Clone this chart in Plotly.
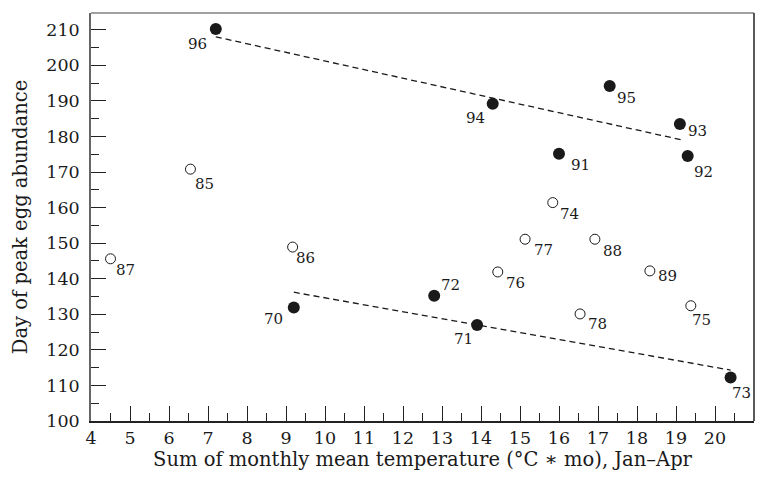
import plotly.graph_objects as go

# Years with early/late egg peaks (filled markers)
filled_years = ["96", "94", "95", "93", "91", "92", "70", "72", "71", "73"]
filled_temp = [7.2, 14.3, 17.3, 19.1, 16.0, 19.3, 9.2, 12.8, 13.9, 20.4]
filled_day = [210.2, 189.2, 194.2, 183.5, 175.1, 174.5, 131.9, 135.2, 127.0, 112.2]

# Remaining years (open markers)
open_years = ["85", "87", "86", "74", "77", "88", "76", "89", "78", "75"]
open_temp = [6.55, 4.5, 9.17, 15.84, 15.13, 16.92, 14.43, 18.33, 16.54, 19.38]
open_day = [170.8, 145.6, 148.9, 161.4, 151.1, 151.1, 141.9, 142.2, 130.1, 132.4]

# Fitted trend lines (endpoints)
upper_fit_x = [7.2, 19.2]
upper_fit_y = [208.0, 178.9]
lower_fit_x = [9.2, 20.4]
lower_fit_y = [136.2, 114.3]

# Label offsets in pixels (dx right, dy down)
label_offset = {
    "96": (-18, 15), "94": (-17, 14), "95": (17, 12), "93": (18, 7),
    "91": (21, 11), "92": (16, 16), "70": (-20, 11), "72": (16, -11),
    "71": (-14, 14), "73": (11, 15), "85": (14, 15), "87": (15, 11),
    "86": (13, 11), "74": (17, 11), "77": (18, 11), "88": (18, 12),
    "76": (18, 11), "89": (18, 5), "78": (17, 10), "75": (11, 14),
}

FONT = "DejaVu Serif"
INK = "#1a1a1a"

fig = go.Figure()

for fx, fy in ((upper_fit_x, upper_fit_y), (lower_fit_x, lower_fit_y)):
    fig.add_trace(go.Scatter(
        x=fx, y=fy, mode="lines",
        line=dict(color=INK, width=1.3, dash="6px,4px"),
        hoverinfo="skip", showlegend=False,
    ))

fig.add_trace(go.Scatter(
    x=open_temp, y=open_day, mode="markers",
    marker=dict(size=10, color="white", line=dict(color=INK, width=1)),
    showlegend=False,
))
fig.add_trace(go.Scatter(
    x=filled_temp, y=filled_day, mode="markers",
    marker=dict(size=12, color=INK, line=dict(width=0)),
    showlegend=False,
))

for years, xs, ys in ((filled_years, filled_temp, filled_day),
                      (open_years, open_temp, open_day)):
    for yr, xv, yv in zip(years, xs, ys):
        dx, dy = label_offset[yr]
        fig.add_annotation(
            x=xv, y=yv, text=yr, showarrow=False,
            xshift=dx, yshift=-dy,
            font=dict(family=FONT, size=15, color=INK),
        )

# Frame: top edge lighter, right edge dark
fig.add_shape(type="line", xref="paper", yref="paper", x0=0, x1=1, y0=1, y1=1,
              line=dict(color="#808080", width=1.5))
fig.add_shape(type="line", xref="paper", yref="paper", x0=1, x1=1, y0=0, y1=1,
              line=dict(color="#222222", width=1.5))

fig.update_layout(
    width=764, height=478,
    margin=dict(l=91, r=10, t=13, b=57),
    paper_bgcolor="white", plot_bgcolor="white",
    font=dict(family=FONT, color=INK),
    xaxis=dict(
        range=[4, 21], dtick=1, tick0=4,
        showgrid=False, zeroline=False,
        showline=True, linecolor="#222222", linewidth=1.5,
        ticks="inside", ticklen=15, tickwidth=1.2, tickcolor="#222222",
        minor=dict(dtick=0.5, ticks="inside", ticklen=8, tickwidth=1.2,
                   tickcolor="#222222", showgrid=False),
        tickfont=dict(family=FONT, size=17.5, color=INK),
        title=dict(text="Sum of monthly mean temperature (°C ∗ mo), Jan–Apr",
                   font=dict(family=FONT, size=19.5, color=INK), standoff=5),
    ),
    yaxis=dict(
        range=[100, 214.7], dtick=10, tick0=100,
        showgrid=False, zeroline=False,
        showline=True, linecolor="#666666", linewidth=1.5,
        ticks="inside", ticklen=15, tickwidth=1.2, tickcolor="#222222",
        minor=dict(dtick=5, ticks="inside", ticklen=8, tickwidth=1.2,
                   tickcolor="#222222", showgrid=False),
        tickfont=dict(family=FONT, size=17.5, color=INK),
        ticklabelstandoff=6,
        title=dict(text="Day of peak egg abundance",
                   font=dict(family=FONT, size=19.5, color=INK), standoff=14),
    ),
)

fig.write_html("out.html")
